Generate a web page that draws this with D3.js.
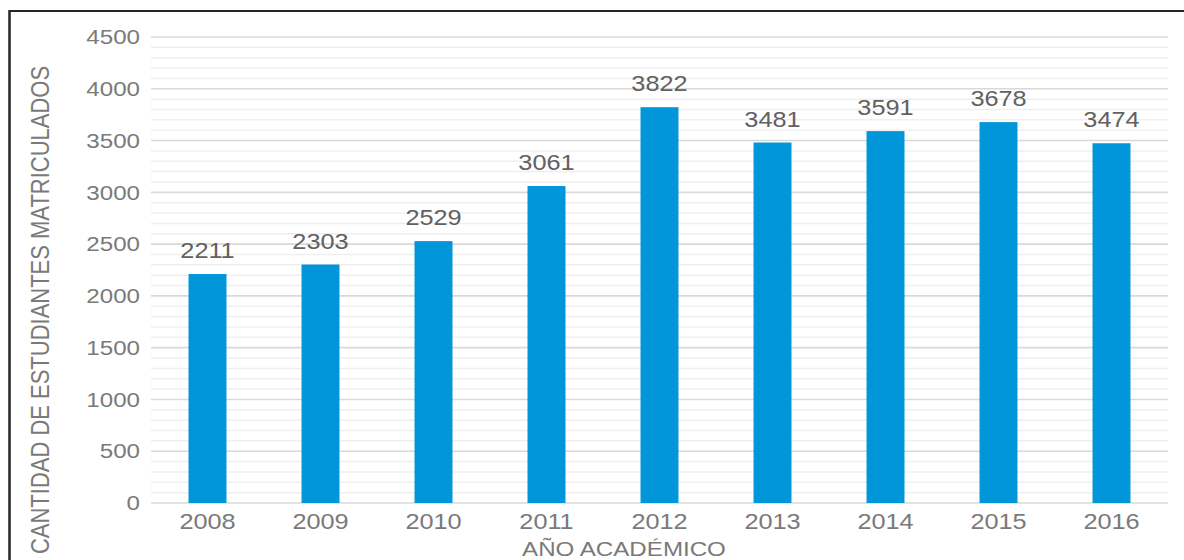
<!DOCTYPE html>
<html><head><meta charset="utf-8">
<script src="https://cdn.jsdelivr.net/npm/d3@7"></script>
<style>html,body{margin:0;padding:0;background:#fff;overflow:hidden}</style>
</head><body>
<svg id="chart" width="1184" height="560"></svg>
<script>
const years = ["2008","2009","2010","2011","2012","2013","2014","2015","2016"];
const students = [2211,2303,2529,3061,3822,3481,3591,3678,3474];
const yTicks = [0,500,1000,1500,2000,2500,3000,3500,4000,4500];
const yTitle = "CANTIDAD DE ESTUDIANTES MATRICULADOS";
const xTitle = "AÑO ACADÉMICO";

const S = 1.15; // horizontal stretch of the original picture
const W = 1184, H = 560, VW = W / S;
const svg = d3.select("#chart")
  .attr("viewBox", `0 0 ${VW} ${H}`)
  .attr("preserveAspectRatio", "none")
  .style("font-family", "'Liberation Sans', Arial, sans-serif");

const x = d3.scaleBand().domain(years).range([151 / S, 1168 / S])
  .paddingInner(0.664).paddingOuter(0.332);
const y = d3.scaleLinear().domain([0, 4500]).range([503, 37]);

// frame
svg.append("path")
  .attr("d", `M${9.5 / S},${H + 5} L${9.5 / S},11 L${VW + 5},11`)
  .attr("fill", "none").attr("stroke", "#262626").attr("stroke-width", 2.2);

// minor gridlines
svg.append("g").selectAll("line")
  .data(d3.range(0, 4501, 100).filter(v => v % 500 !== 0))
  .join("line")
  .attr("x1", 151 / S).attr("x2", 1168 / S)
  .attr("y1", d => y(d)).attr("y2", d => y(d))
  .attr("stroke", "#efefef").attr("stroke-width", 1.5);

// major gridlines
svg.append("g").selectAll("line")
  .data(yTicks)
  .join("line")
  .attr("x1", 151 / S).attr("x2", 1168 / S)
  .attr("y1", d => y(d)).attr("y2", d => y(d))
  .attr("stroke", "#d9d9d9").attr("stroke-width", 1.6);

// y tick labels via axis
const yAxis = svg.append("g")
  .attr("transform", `translate(${151 / S},0)`)
  .call(d3.axisLeft(y).tickValues(yTicks).tickFormat(d3.format("d"))
    .tickSize(0).tickPadding(11 / S));
yAxis.select(".domain").remove();
yAxis.selectAll("text")
  .attr("fill", "#7a7a7a").style("font-size", "21px")
  .style("font-family", "'Liberation Sans', Arial, sans-serif");

// bars
svg.append("g").selectAll("rect")
  .data(students)
  .join("rect")
  .attr("x", (d, i) => x(years[i]))
  .attr("width", x.bandwidth())
  .attr("y", d => y(d))
  .attr("height", d => y(0) - y(d))
  .attr("fill", "#0096d9");

// value labels
svg.append("g").selectAll("text")
  .data(students)
  .join("text")
  .attr("x", (d, i) => x(years[i]) + x.bandwidth() / 2)
  .attr("y", d => y(d) - 16)
  .attr("text-anchor", "middle")
  .attr("fill", "#616161")
  .style("font-size", "22px")
  .text(d => d);

// x tick labels via axis
const xAxis = svg.append("g")
  .attr("transform", `translate(0,${y(0)})`)
  .call(d3.axisBottom(x).tickSize(0).tickPadding(10));
xAxis.select(".domain").remove();
xAxis.selectAll("text")
  .attr("fill", "#7a7a7a").style("font-size", "22px")
  .style("font-family", "'Liberation Sans', Arial, sans-serif");

// axis titles
svg.append("text")
  .attr("x", 624 / S).attr("y", 556)
  .attr("text-anchor", "middle")
  .attr("fill", "#7a7a7a").style("font-size", "21px")
  .text(xTitle);

svg.append("text")
  .attr("transform", `translate(${49 / S},${310}) rotate(-90)`)
  .attr("text-anchor", "middle")
  .attr("fill", "#7a7a7a").style("font-size", "22px")
  .text(yTitle);
</script>
</body></html>
